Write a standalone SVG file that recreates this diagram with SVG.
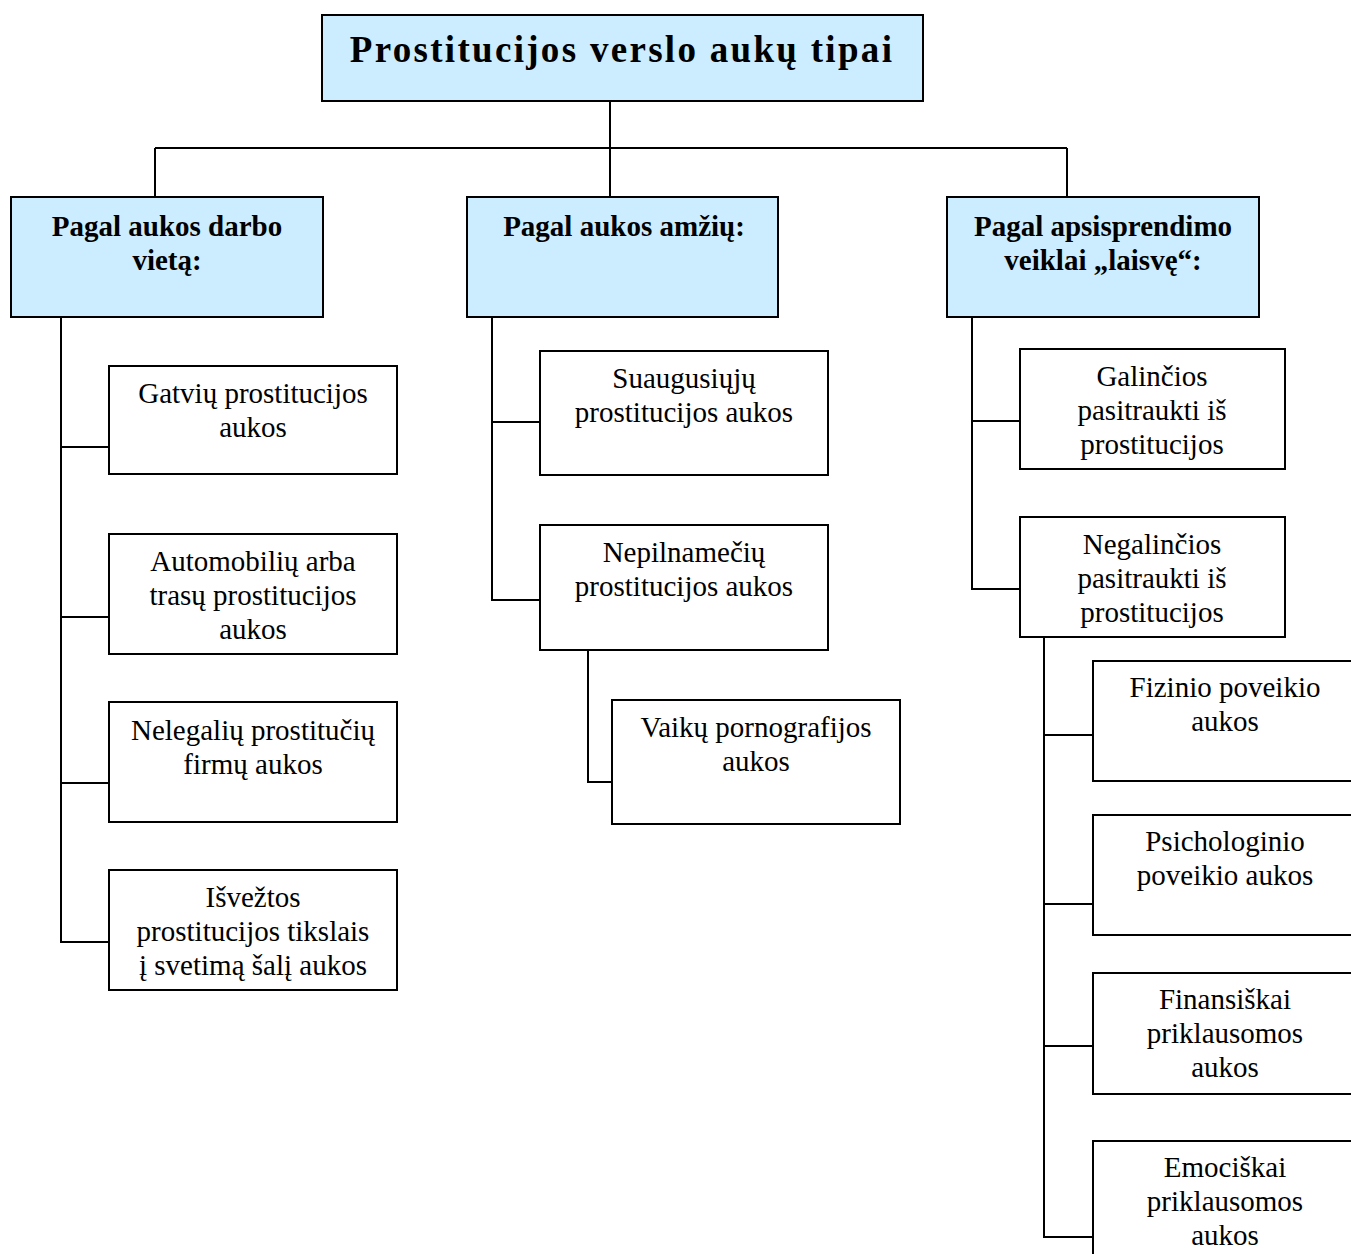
<svg xmlns="http://www.w3.org/2000/svg" width="1351" height="1254" viewBox="0 0 1351 1254">
<style>
.box{fill:#ffffff;stroke:#000;stroke-width:2}
.hdr{fill:#CCECFF;stroke:#000;stroke-width:2}
.t{font-family:"Liberation Serif","Times New Roman",serif;font-size:29px;fill:#000;text-anchor:middle}
.b{font-weight:bold}
.title{font-family:"Liberation Serif","Times New Roman",serif;font-size:37px;font-weight:bold;letter-spacing:2.3px;text-anchor:middle}
.c{fill:none;stroke:#000;stroke-width:2}
</style>
<rect width="1351" height="1254" fill="#fff"/>
<g id="connectors">
<path class="c" d="M610 101V198M155 148H1067M155 148V198M1067 148V198"/>
<path class="c" d="M61 317V942H109M61 447H109M61 617H109M61 783H109"/>
<path class="c" d="M492 317V600H540M492 422H540"/>
<path class="c" d="M588 650V782H612"/>
<path class="c" d="M972 317V589H1020M972 421H1020"/>
<path class="c" d="M1044 637V1237H1093M1044 735H1093M1044 904H1093M1044 1046H1093"/>
</g>
<g id="title"><rect class="hdr" x="322" y="15" width="601" height="86"/><text class="title" x="622" y="62">Prostitucijos verslo aukų tipai</text></g>
<g id="h1"><rect class="hdr" x="11" y="197" width="312" height="120"/><text class="t b" x="167" y="236">Pagal aukos darbo</text><text class="t b" x="167" y="270">vietą:</text></g>
<g id="h2"><rect class="hdr" x="467" y="197" width="311" height="120"/><text class="t b" x="624" y="236">Pagal aukos amžių:</text></g>
<g id="h3"><rect class="hdr" x="947" y="197" width="312" height="120"/><text class="t b" x="1103" y="236">Pagal apsisprendimo</text><text class="t b" x="1103" y="270">veiklai „laisvę“:</text></g>
<g id="l1"><rect class="box" x="109" y="366" width="288" height="108"/><text class="t" x="253" y="403">Gatvių prostitucijos</text><text class="t" x="253" y="437">aukos</text></g>
<g id="l2"><rect class="box" x="109" y="534" width="288" height="120"/><text class="t" x="253" y="571">Automobilių arba</text><text class="t" x="253" y="605">trasų prostitucijos</text><text class="t" x="253" y="639">aukos</text></g>
<g id="l3"><rect class="box" x="109" y="702" width="288" height="120"/><text class="t" x="253" y="740">Nelegalių prostitučių</text><text class="t" x="253" y="774">firmų aukos</text></g>
<g id="l4"><rect class="box" x="109" y="870" width="288" height="120"/><text class="t" x="253" y="907">Išvežtos</text><text class="t" x="253" y="941">prostitucijos tikslais</text><text class="t" x="253" y="975">į svetimą šalį aukos</text></g>
<g id="m1"><rect class="box" x="540" y="351" width="288" height="124"/><text class="t" x="684" y="388">Suaugusiųjų</text><text class="t" x="684" y="422">prostitucijos aukos</text></g>
<g id="m2"><rect class="box" x="540" y="525" width="288" height="125"/><text class="t" x="684" y="562">Nepilnamečių</text><text class="t" x="684" y="596">prostitucijos aukos</text></g>
<g id="m3"><rect class="box" x="612" y="700" width="288" height="124"/><text class="t" x="756" y="737">Vaikų pornografijos</text><text class="t" x="756" y="771">aukos</text></g>
<g id="r1"><rect class="box" x="1020" y="349" width="265" height="120"/><text class="t" x="1152" y="386">Galinčios</text><text class="t" x="1152" y="420">pasitraukti iš</text><text class="t" x="1152" y="454">prostitucijos</text></g>
<g id="r2"><rect class="box" x="1020" y="517" width="265" height="120"/><text class="t" x="1152" y="554">Negalinčios</text><text class="t" x="1152" y="588">pasitraukti iš</text><text class="t" x="1152" y="622">prostitucijos</text></g>
<g id="s1"><rect class="box" x="1093" y="661" width="266" height="120"/><text class="t" x="1225" y="697">Fizinio poveikio</text><text class="t" x="1225" y="731">aukos</text></g>
<g id="s2"><rect class="box" x="1093" y="815" width="266" height="120"/><text class="t" x="1225" y="851">Psichologinio</text><text class="t" x="1225" y="885">poveikio aukos</text></g>
<g id="s3"><rect class="box" x="1093" y="973" width="266" height="121"/><text class="t" x="1225" y="1009">Finansiškai</text><text class="t" x="1225" y="1043">priklausomos</text><text class="t" x="1225" y="1077">aukos</text></g>
<g id="s4"><rect class="box" x="1093" y="1141" width="266" height="130"/><text class="t" x="1225" y="1177">Emociškai</text><text class="t" x="1225" y="1211">priklausomos</text><text class="t" x="1225" y="1245">aukos</text></g>
</svg>
